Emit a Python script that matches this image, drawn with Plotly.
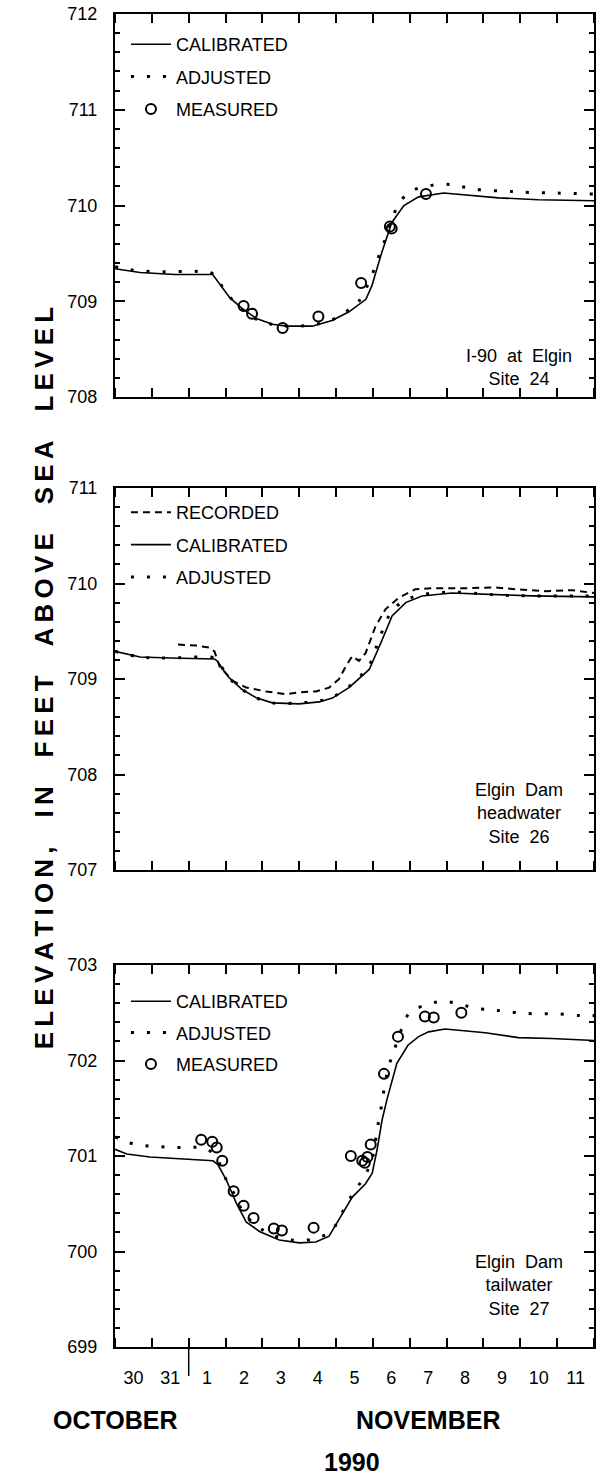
import pandas as pd
import plotly.graph_objects as go

BASE = pd.Timestamp("1990-10-30")

# ---------------- Panel 1: I-90 at Elgin, Site 24 ----------------
p1_cal_day = [0.0, 0.68, 1.62, 2.65, 3.11, 3.46, 3.84, 4.27, 4.65, 5.35, 5.89, 6.35, 6.81, 6.97,
              7.24, 7.51, 7.84, 8.24, 8.92, 9.59, 10.41, 11.49, 13.0]
p1_cal_val = [709.34, 709.30, 709.28, 709.28, 709.04, 708.92, 708.82, 708.76, 708.74, 708.74, 708.80,
              708.89, 709.02, 709.16, 709.51, 709.82, 710.00, 710.09, 710.13, 710.11, 710.08, 710.06, 710.05]
p1_adj_day = [0.0, 0.4, 1.0, 2.0, 2.6, 2.84, 3.15, 3.5, 3.85, 4.25, 4.7, 5.3, 5.85, 6.26, 6.6, 7.0,
              7.14, 7.3, 7.5, 7.8, 8.1, 8.59, 9.1, 9.5, 10.0, 10.6, 11.0, 12.0, 13.0]
p1_adj_val = [709.36, 709.33, 709.31, 709.31, 709.30, 709.19, 709.03, 708.90, 708.81, 708.76, 708.74,
              708.75, 708.80, 708.89, 708.99, 709.30, 709.45, 709.61, 709.85, 710.07, 710.16, 710.21,
              710.22, 710.19, 710.16, 710.15, 710.14, 710.13, 710.12]
p1_mea_day = [3.49, 3.72, 4.55, 5.52, 6.68, 7.46, 7.51, 8.44]
p1_mea_val = [708.95, 708.87, 708.72, 708.84, 709.19, 709.78, 709.76, 710.12]

# ---------------- Panel 2: Elgin Dam headwater, Site 26 ----------------
p2_rec_day = [1.71, 2.2, 2.55, 2.7, 2.84, 3.2, 3.56, 4.1, 4.65, 5.0, 5.45, 5.81, 6.08, 6.26, 6.44,
              6.62, 6.8, 7.07, 7.34, 7.7, 8.15, 8.6, 9.5, 10.3, 10.85, 11.7, 12.4, 13.0]
p2_rec_val = [709.36, 709.35, 709.33, 709.29, 709.13, 708.98, 708.91, 708.87, 708.84, 708.86, 708.87,
              708.91, 709.00, 709.13, 709.24, 709.19, 709.27, 709.55, 709.73, 709.85, 709.94, 709.95,
              709.95, 709.96, 709.94, 709.92, 709.93, 709.90]
p2_cal_day = [0.0, 0.68, 1.5, 2.7, 2.77, 3.08, 3.45, 3.85, 4.27, 5.0, 5.54, 5.90, 6.35, 6.71, 6.9,
              7.25, 7.52, 7.89, 8.33, 9.14, 10.0, 10.41, 11.3, 13.0]
p2_cal_val = [709.29, 709.23, 709.22, 709.21, 709.19, 709.02, 708.89, 708.80, 708.75, 708.74, 708.76,
              708.80, 708.91, 709.03, 709.10, 709.41, 709.66, 709.80, 709.87, 709.90, 709.89, 709.88,
              709.87, 709.86]
p2_adj_day = [0.0, 0.68, 1.5, 2.7, 2.8, 3.1, 3.45, 3.85, 4.27, 5.0, 5.54, 5.90, 6.35, 6.71, 6.9,
              7.2, 7.5, 7.85, 8.3, 9.1, 10.0, 10.4, 11.3, 13.0]
p2_adj_val = [709.29, 709.23, 709.22, 709.22, 709.18, 709.01, 708.89, 708.80, 708.75, 708.75, 708.77,
              708.81, 708.92, 709.05, 709.14, 709.45, 709.70, 709.82, 709.88, 709.91, 709.89, 709.88,
              709.87, 709.87]

# ---------------- Panel 3: Elgin Dam tailwater, Site 27 ----------------
p3_cal_day = [0.0, 0.32, 0.95, 1.85, 2.66, 2.79, 3.02, 3.29, 3.56, 3.92, 4.46, 5.0, 5.45, 5.81, 6.08,
              6.44, 6.80, 6.98, 7.11, 7.25, 7.38, 7.65, 7.95, 8.24, 8.51, 8.96, 10.05, 10.95, 11.85, 13.0]
p3_cal_val = [701.07, 701.02, 700.99, 700.97, 700.95, 700.91, 700.75, 700.51, 700.31, 700.21, 700.12,
              700.09, 700.10, 700.16, 700.33, 700.57, 700.71, 700.82, 701.06, 701.38, 701.59, 701.97,
              702.16, 702.25, 702.30, 702.33, 702.29, 702.24, 702.23, 702.21]
p3_adj_day = [0.0, 0.36, 0.77, 1.17, 1.6, 2.03, 2.46, 2.75, 3.02, 3.2, 3.5, 3.99, 4.37, 4.78, 5.22,
              5.54, 5.87, 6.1, 6.31, 6.53, 6.78, 7.0, 7.11, 7.2, 7.34, 7.43, 7.57, 7.8, 8.0, 8.51,
              8.92, 9.35, 9.76, 10.18, 10.51, 10.92, 11.35, 12.0, 12.63, 13.0]
p3_adj_val = [701.20, 701.14, 701.11, 701.10, 701.09, 701.09, 701.08, 700.98, 700.75, 700.63, 700.40,
              700.23, 700.16, 700.12, 700.12, 700.15, 700.21, 700.36, 700.51, 700.65, 700.79, 701.00,
              701.27, 701.45, 701.78, 701.94, 702.10, 702.35, 702.50, 702.59, 702.62, 702.59, 702.55,
              702.53, 702.52, 702.50, 702.49, 702.49, 702.47, 702.47]
p3_mea_day = [2.34, 2.64, 2.76, 2.91, 3.22, 3.49, 3.76, 4.31, 4.53, 5.39, 6.40, 6.71, 6.78, 6.85,
              6.94, 7.30, 7.68, 8.41, 8.65, 9.40]
p3_mea_val = [701.17, 701.15, 701.09, 700.95, 700.63, 700.48, 700.35, 700.24, 700.22, 700.25, 701.00,
              700.95, 700.93, 700.99, 701.12, 701.86, 702.25, 702.46, 702.45, 702.50]

# ---------------- Axis text ----------------
y_ranges = [(708, 712), (707, 711), (699, 703)]
site_labels = ["I-90\u00a0\u00a0at\u00a0\u00a0Elgin<br>Site\u00a0\u00a024",
               "Elgin\u00a0\u00a0Dam<br>headwater<br>Site\u00a0\u00a026",
               "Elgin\u00a0\u00a0Dam<br>tailwater<br>Site\u00a0\u00a027"]
month_labels = ["OCTOBER", "NOVEMBER"]
year_label = "1990"
y_title_words = ["ELEVATION,", "IN", "FEET", "ABOVE", "SEA", "LEVEL"]
# slightly spaced-out lettering with wide word gaps, as in the original
y_title = ("\u00a0" * 4).join("\u2009".join(w) for w in y_title_words)


def dates(days):
    return list(BASE + pd.to_timedelta(days, unit="D"))


FONT = "Liberation Sans, Arial, Helvetica, sans-serif"
H = 1475
T, B = 14, 128
PH = H - T - B
L, R = 115, 4
PW = 600 - L - R


def py(px):
    return (H - B - px) / PH


def pxx(px):
    return (px - L) / PW


panels = [(14, 397), (488, 870), (965, 1347)]

fig = go.Figure()

DOT = dict(color="black", width=3, dash="3px,13px")
SOLID = dict(color="black", width=1.6)
DASH = dict(color="black", width=2, dash="7px,5px")
CIRC = dict(symbol="circle-open", size=10, color="black", line=dict(width=2, color="black"))

# panel 1
fig.add_trace(go.Scatter(x=dates(p1_cal_day), y=p1_cal_val, mode="lines", line=SOLID, name="CALIBRATED",
                         xaxis="x", yaxis="y", legend="legend", legendgroup="a1"))
fig.add_trace(go.Scatter(x=dates(p1_adj_day), y=p1_adj_val, mode="lines", line=DOT, name="ADJUSTED",
                         line_shape="spline", xaxis="x", yaxis="y", legend="legend", legendgroup="b1"))
fig.add_trace(go.Scatter(x=dates(p1_mea_day), y=p1_mea_val, mode="markers", marker=CIRC, name="MEASURED",
                         xaxis="x", yaxis="y", legend="legend", legendgroup="c1"))
# panel 2
fig.add_trace(go.Scatter(x=dates(p2_rec_day), y=p2_rec_val, mode="lines", line=DASH, name="RECORDED",
                         xaxis="x2", yaxis="y2", legend="legend2", legendgroup="a2"))
fig.add_trace(go.Scatter(x=dates(p2_cal_day), y=p2_cal_val, mode="lines", line=SOLID, name="CALIBRATED",
                         xaxis="x2", yaxis="y2", legend="legend2", legendgroup="b2"))
fig.add_trace(go.Scatter(x=dates(p2_adj_day), y=p2_adj_val, mode="lines", line=DOT, name="ADJUSTED",
                         line_shape="spline", xaxis="x2", yaxis="y2", legend="legend2", legendgroup="c2"))
# panel 3
fig.add_trace(go.Scatter(x=dates(p3_cal_day), y=p3_cal_val, mode="lines", line=SOLID, name="CALIBRATED",
                         xaxis="x3", yaxis="y3", legend="legend3", legendgroup="a3"))
fig.add_trace(go.Scatter(x=dates(p3_adj_day), y=p3_adj_val, mode="lines", line=DOT, name="ADJUSTED",
                         line_shape="spline", xaxis="x3", yaxis="y3", legend="legend3", legendgroup="b3"))
fig.add_trace(go.Scatter(x=dates(p3_mea_day), y=p3_mea_val, mode="markers", marker=CIRC, name="MEASURED",
                         xaxis="x3", yaxis="y3", legend="legend3", legendgroup="c3"))

# empty traces so that the right-hand tick axes exist
for i in range(3):
    xs = "x" if i == 0 else "x" + str(i + 1)
    fig.add_trace(go.Scatter(x=[], y=[], xaxis=xs, yaxis="y" + str(i + 4), showlegend=False,
                             hoverinfo="skip"))

layout = dict(
    width=600, height=H,
    margin=dict(l=L, r=R, t=T, b=B),
    paper_bgcolor="white", plot_bgcolor="white",
    font=dict(family=FONT, color="black", size=18),
    showlegend=True,
)

for i, ((top, bot), yr) in enumerate(zip(panels, y_ranges)):
    sfx = "" if i == 0 else str(i + 1)
    layout["xaxis" + sfx] = dict(
        type="date", anchor="y" + sfx,
        range=[BASE, BASE + pd.Timedelta(days=13)],
        dtick=86400000, tick0=BASE, tickformat="%-d", ticklabelmode="period",
        ticks="inside", ticklen=9, tickwidth=1.5, tickcolor="black",
        showline=True, linewidth=2, linecolor="black", mirror="ticks",
        showgrid=False, zeroline=False,
        showticklabels=(i == 2), ticklabelstandoff=13,
        tickfont=dict(size=18, family=FONT, color="black"),
    )
    yticks = dict(
        range=list(yr), dtick=1, tickformat="d",
        ticks="inside", ticklen=10, tickwidth=1.5, tickcolor="black",
        minor=dict(dtick=0.2, ticks="inside", ticklen=5, tickwidth=1.5, tickcolor="black", showgrid=False),
        showgrid=False, zeroline=False,
    )
    layout["yaxis" + sfx] = dict(
        domain=[py(bot), py(top)], anchor="x" + sfx,
        showline=True, linewidth=2, linecolor="black", mirror=True,
        ticklabelstandoff=12,
        tickfont=dict(size=18, family=FONT, color="black"),
        **yticks,
    )
    layout["yaxis" + str(i + 4)] = dict(
        overlaying="y" + sfx, anchor="x" + sfx, side="right",
        showline=False, showticklabels=False,
        **yticks,
    )

legend_tops = [26, 494, 983]
for i, top in enumerate(legend_tops):
    key = "legend" if i == 0 else "legend" + str(i + 1)
    layout[key] = dict(
        x=pxx(126), xanchor="left", y=py(top), yanchor="top",
        bgcolor="rgba(0,0,0,0)", borderwidth=0,
        font=dict(size=18, family=FONT, color="black"),
        tracegroupgap=6 if i < 2 else 5, itemwidth=40,
    )

annotations = []
site_centers = [367, 813, 1285]
for txt, yy in zip(site_labels, site_centers):
    annotations.append(dict(text=txt, x=pxx(521), y=py(yy), xref="paper", yref="paper",
                            xanchor="center", yanchor="middle", showarrow=False, align="center",
                            font=dict(size=18, family=FONT, color="black")))
big = dict(size=25, family=FONT, color="black", weight="bold")
annotations.append(dict(text=month_labels[0], x=pxx(180), y=py(1420), xref="paper", yref="paper",
                        xanchor="right", yanchor="middle", showarrow=False, font=big))
annotations.append(dict(text=month_labels[1], x=pxx(355), y=py(1420), xref="paper", yref="paper",
                        xanchor="left", yanchor="middle", showarrow=False, font=big))
annotations.append(dict(text=year_label, x=pxx(353), y=py(1462), xref="paper", yref="paper",
                        xanchor="center", yanchor="middle", showarrow=False, font=big))
annotations.append(dict(text=y_title, x=pxx(44), y=py(678), xref="paper", yref="paper",
                        xanchor="center", yanchor="middle", showarrow=False, textangle=-90,
                        font=dict(size=26, family=FONT, color="black", weight="bold")))
layout["annotations"] = annotations

# long tick marking the month boundary (Nov 1) on the bottom axis
layout["shapes"] = [dict(type="line", xref="x3", yref="paper", x0=BASE + pd.Timedelta(days=2),
                         x1=BASE + pd.Timedelta(days=2), y0=0, y1=py(1376),
                         line=dict(color="black", width=1.5))]

fig.update_layout(**layout)
fig.write_html("out.html")
